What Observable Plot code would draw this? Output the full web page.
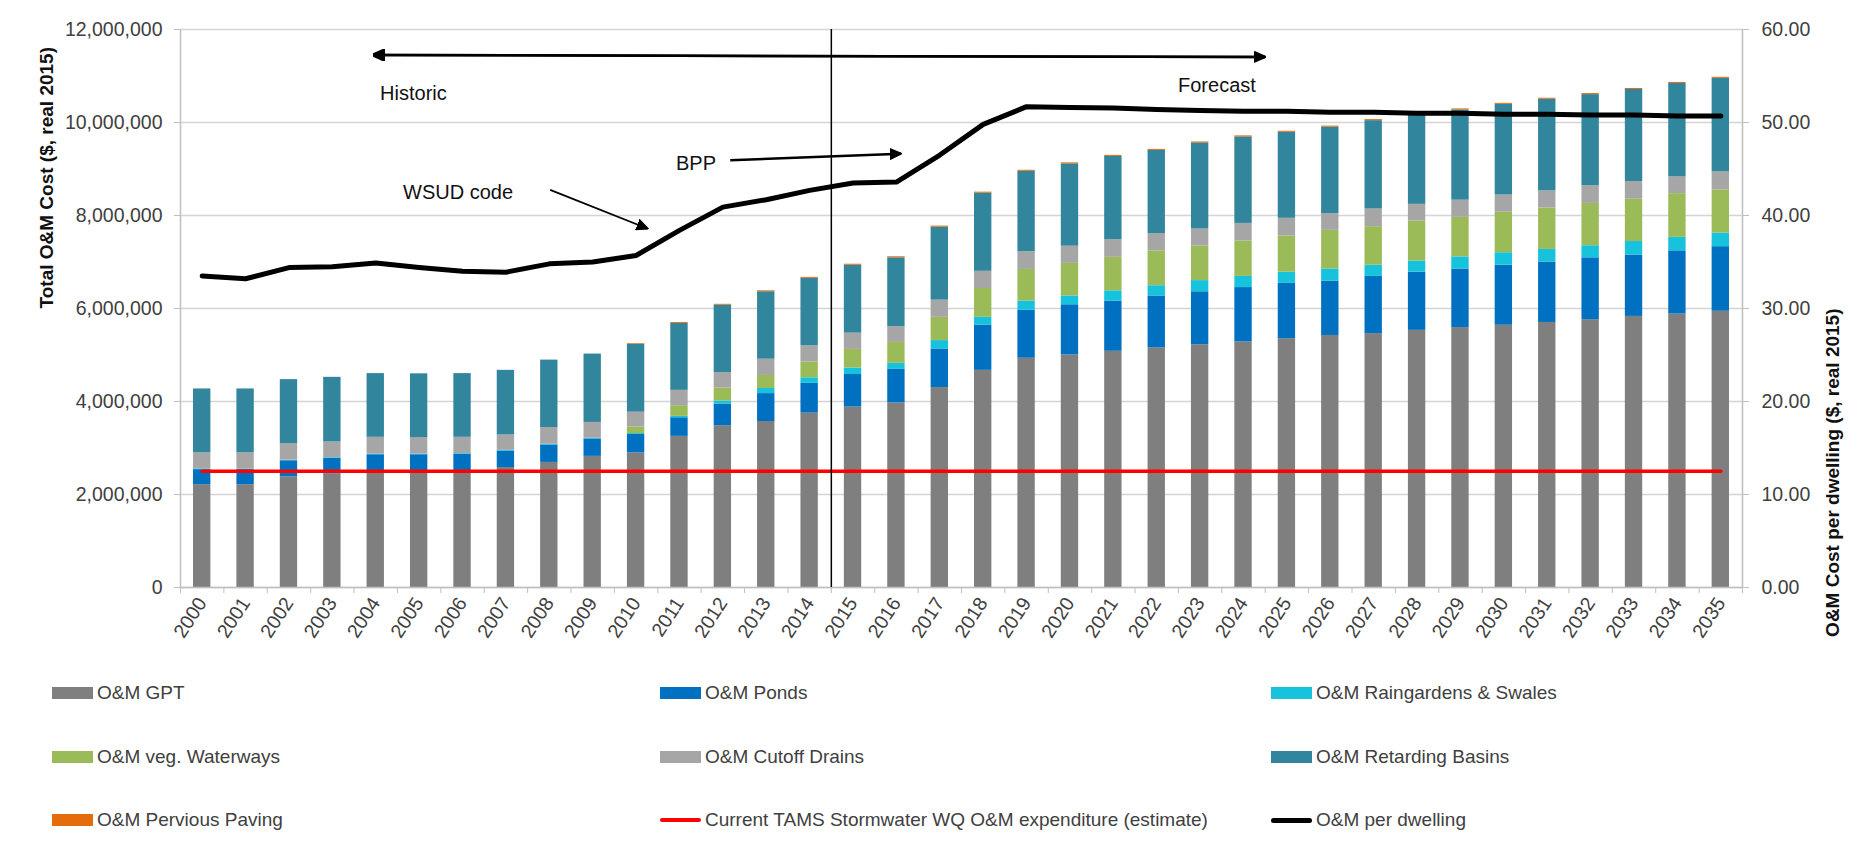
<!DOCTYPE html>
<html>
<head>
<meta charset="utf-8">
<script src="https://cdn.jsdelivr.net/npm/d3@7"></script>
<script src="https://cdn.jsdelivr.net/npm/@observablehq/plot@0.6"></script>
<style>
  html, body { margin: 0; padding: 0; background: #fff; }
  #wrap { position: relative; width: 1864px; height: 865px; font-family: "Liberation Sans", Arial, sans-serif; }
  #legend { position: absolute; left: 0; top: 660px; width: 1864px; height: 205px; }
  .item { position: absolute; display: flex; align-items: center; font-size: 19px; color: #404040; white-space: nowrap; }
  .sw { width: 41px; height: 12px; margin-right: 4px; }
  .ln { width: 41px; margin-right: 4px; }
</style>
</head>
<body>
<div id="wrap">
  <div id="chart"></div>
  <div id="legend"></div>
</div>
<script>
// ---------- data ----------
const years = [2000,2001,2002,2003,2004,2005,2006,2007,2008,2009,2010,2011,2012,2013,2014,2015,2016,2017,
               2018,2019,2020,2021,2022,2023,2024,2025,2026,2027,2028,2029,2030,2031,2032,2033,2034,2035];

const omGPT = [2210000,2210000,2380000,2440000,2490000,2490000,2490000,2580000,2690000,2820000,
               2895000,3250000,3480000,3570000,3750000,3880000,3970000,4300000,4670000,4930000,
               5000000,5080000,5150000,5220000,5280000,5350000,5420000,5460000,5530000,5590000,
               5640000,5700000,5760000,5830000,5880000,5940000];
const omPonds = [325000,325000,345000,335000,365000,365000,375000,355000,375000,375000,
                 395000,400000,460000,600000,640000,700000,720000,830000,970000,1030000,
                 1080000,1080000,1120000,1140000,1170000,1190000,1170000,1230000,1250000,1260000,
                 1290000,1300000,1330000,1320000,1360000,1390000];
const omRaingardens = [15000,15000,15000,15000,15000,15000,15000,15000,15000,15000,
                       20000,30000,70000,110000,120000,140000,130000,180000,170000,200000,
                       190000,220000,220000,240000,240000,240000,260000,240000,240000,260000,
                       270000,270000,260000,290000,290000,290000];
const omVegWaterways = [0,0,0,0,0,0,0,0,0,0,
                        140000,230000,280000,280000,340000,400000,450000,500000,620000,680000,
                        700000,720000,750000,740000,760000,780000,830000,830000,860000,850000,
                        870000,890000,910000,910000,940000,930000];
const omCutoffDrains = [345000,345000,350000,340000,360000,355000,350000,330000,360000,340000,
                        320000,330000,330000,350000,350000,350000,340000,370000,370000,380000,
                        370000,380000,370000,370000,380000,380000,360000,380000,360000,370000,
                        370000,370000,380000,380000,360000,390000];
const omRetardingBasins = [1375000,1375000,1380000,1390000,1370000,1370000,1370000,1390000,1450000,1470000,
                           1460000,1440000,1450000,1450000,1450000,1460000,1480000,1570000,1680000,1730000,
                           1770000,1790000,1790000,1850000,1860000,1850000,1860000,1900000,1930000,1940000,
                           1950000,1970000,1960000,1980000,2010000,2010000];
const omPerviousPaving = [0,0,0,0,0,0,0,0,0,0,
                          15000,20000,20000,20000,20000,22000,22000,22000,22000,22000,
                          22000,22000,22000,22000,22000,22000,22000,22000,22000,22000,
                          22000,22000,22000,22000,22000,22000];
const tamsExpenditure = 2500000;
const perDwelling = [33.5,33.2,34.4,34.5,34.9,34.4,34.0,33.9,34.8,35.0,
                     35.7,38.4,40.9,41.7,42.7,43.5,43.6,46.5,49.8,51.7,
                     51.6,51.55,51.4,51.3,51.2,51.2,51.1,51.1,51.0,51.0,
                     50.9,50.9,50.8,50.8,50.7,50.7];

const leftTicks = [0,2000000,4000000,6000000,8000000,10000000,12000000];
const leftMax = 12000000;
const rightMax = 60;

const seriesNames = ["O&M GPT","O&M Ponds","O&M Raingardens & Swales","O&M veg. Waterways",
                     "O&M Cutoff Drains","O&M Retarding Basins","O&M Pervious Paving"];
const seriesValues = [omGPT, omPonds, omRaingardens, omVegWaterways, omCutoffDrains, omRetardingBasins, omPerviousPaving];
const seriesColors = ["#7f7f7f","#0070c0","#17c2dc","#9bbb59","#a6a6a6","#31859c","#e46c0a"];
const tamsLabel = "Current TAMS Stormwater WQ O&M expenditure (estimate)";
const dwellingLabel = "O&M per dwelling";

// annotations in data coordinates (year, $)
const annotationTexts = ["Historic","Forecast","WSUD code","BPP"];
const annotationYears = [2004.1, 2022.49, 2004.63, 2010.92];
const annotationValues = [10620000, 10800000, 8490000, 9120000];

const arrowsData = [
  {x1: 2003.96, y1: 11450000, x2: 2024.5, y2: 11410000, both: true, w: 2.5},
  {x1: 2008.02, y1: 8550000, x2: 2010.26, y2: 7720000, both: false, w: 1.8},
  {x1: 2012.17, y1: 9190000, x2: 2016.1, y2: 9330000, both: false, w: 2.5}
];
const splitYear = 2014.5;

// ---------- tidy table ----------
const rows = seriesNames.flatMap((name, s) =>
  years.map((year, i) => ({year, series: name, value: seriesValues[s][i]})));
const tamsRows = years.map(year => ({year, value: tamsExpenditure}));
const dwellRows = years.map((year, i) => ({year, value: perDwelling[i]}));
const annotations = annotationTexts.map((t, i) => ({text: t, x: annotationYears[i], y: annotationValues[i]}));
const boundaries = [...years.map(y => y - 0.5), years[years.length - 1] + 0.5];

function arrowHead(color) {
  const m = d3.create("svg:marker")
    .attr("viewBox", "0 -5 10 10")
    .attr("refX", 9)
    .attr("refY", 0)
    .attr("markerUnits", "userSpaceOnUse")
    .attr("markerWidth", 12)
    .attr("markerHeight", 12)
    .attr("orient", "auto-start-reverse")
    .attr("fill", color);
  m.append("path").attr("d", "M0,-4.5L10,0L0,4.5Z");
  return m.node();
}

const axisGray = "#bfbfbf";
const textGray = "#404040";
const fnt = "Liberation Sans, Arial, sans-serif";

const chart = Plot.plot({
  width: 1864,
  height: 660,
  marginLeft: 180,
  marginRight: 122,
  marginTop: 29,
  marginBottom: 73,
  style: {fontFamily: fnt, fontSize: "19.5px", background: "#fff", overflow: "visible"},
  x: {type: "linear", domain: [years[0] - 0.5, years[years.length - 1] + 0.5]},
  y: {domain: [0, leftMax]},
  color: {domain: seriesNames, range: seriesColors},
  marks: [
    Plot.gridY(leftTicks, {stroke: "#d4d4d4", strokeOpacity: 1, strokeWidth: 1.5}),
    Plot.rectY(rows, {x1: d => d.year - 0.2, x2: d => d.year + 0.2, y: "value", z: "series", fill: "series"}),
    Plot.ruleY([0], {stroke: axisGray, strokeWidth: 1.5}),
    Plot.ruleX([boundaries[0], boundaries[boundaries.length - 1]], {stroke: axisGray, strokeWidth: 1.5}),
    Plot.axisY({ticks: leftTicks, tickSize: 6, tickPadding: 12, tickFormat: d3.format(","),
                stroke: axisGray, fill: textGray, label: null, fontSize: 19.5}),
    Plot.axisY({anchor: "right", ticks: leftTicks, tickSize: 6, tickPadding: 13,
                tickFormat: d => (d / leftMax * rightMax).toFixed(2),
                stroke: axisGray, fill: textGray, label: null, fontSize: 19.5}),
    Plot.axisX({ticks: boundaries, tickSize: 6, tickFormat: () => "", stroke: axisGray, label: null}),
    Plot.axisX({ticks: years, tickSize: 0, tickPadding: 12, tickRotate: -57, tickFormat: d => `${d}`,
                fill: textGray, label: null, fontSize: 19.5}),
    Plot.line(tamsRows, {x: "year", y: "value", stroke: "#ff0000", strokeWidth: 3.5}),
    Plot.ruleX([splitYear], {stroke: "#000", strokeWidth: 1.5}),
    Plot.line(dwellRows, {x: "year", y: d => d.value / rightMax * leftMax, stroke: "#000", strokeWidth: 5,
                          strokeLinejoin: "round", strokeLinecap: "round"}),
    Plot.link(arrowsData, {x1: "x1", y1: "y1", x2: "x2", y2: "y2", stroke: "#000", strokeWidth: d => d.w,
                           markerEnd: arrowHead}),
    Plot.link(arrowsData.filter(d => d.both), {x1: "x1", y1: "y1", x2: "x2", y2: "y2", stroke: "#000",
                           strokeWidth: 2.5, markerStart: arrowHead}),
    Plot.text(annotations, {x: "x", y: "y", text: "text", textAnchor: "start", fill: "#111", fontSize: 20}),
    Plot.text(["Total O&M Cost ($, real 2015)"], {frameAnchor: "left", dx: -133.5, rotate: -90,
              fontWeight: "bold", fontSize: 19, fill: "#111"}),
    Plot.text(["O&M Cost per dwelling ($, real 2015)"], {frameAnchor: "right", dx: 90, rotate: -90,
              fontWeight: "bold", fontSize: 19, fill: "#111"})
  ]
});
document.getElementById("chart").appendChild(chart);

// ---------- legend ----------
const legendItems = [
  {label: seriesNames[0], color: seriesColors[0], kind: "box"},
  {label: seriesNames[1], color: seriesColors[1], kind: "box"},
  {label: seriesNames[2], color: seriesColors[2], kind: "box"},
  {label: seriesNames[3], color: seriesColors[3], kind: "box"},
  {label: seriesNames[4], color: seriesColors[4], kind: "box"},
  {label: seriesNames[5], color: seriesColors[5], kind: "box"},
  {label: seriesNames[6], color: seriesColors[6], kind: "box"},
  {label: tamsLabel, color: "#ff0000", kind: "line", h: 4},
  {label: dwellingLabel, color: "#000", kind: "line", h: 5}
];
const colX = [52, 660, 1271];
const rowY = [33, 97, 160];
const legend = document.getElementById("legend");
legendItems.forEach((it, i) => {
  const div = document.createElement("div");
  div.className = "item";
  div.style.left = colX[i % 3] + "px";
  div.style.top = (rowY[Math.floor(i / 3)] - 11) + "px";
  div.style.height = "22px";
  const sw = document.createElement("span");
  if (it.kind === "box") {
    sw.className = "sw";
    sw.style.background = it.color;
  } else {
    sw.className = "ln";
    sw.style.height = it.h + "px";
    sw.style.background = it.color;
    sw.style.borderRadius = it.h / 2 + "px";
  }
  div.appendChild(sw);
  const tx = document.createElement("span");
  tx.textContent = it.label;
  div.appendChild(tx);
  legend.appendChild(div);
});
</script>
</body>
</html>
